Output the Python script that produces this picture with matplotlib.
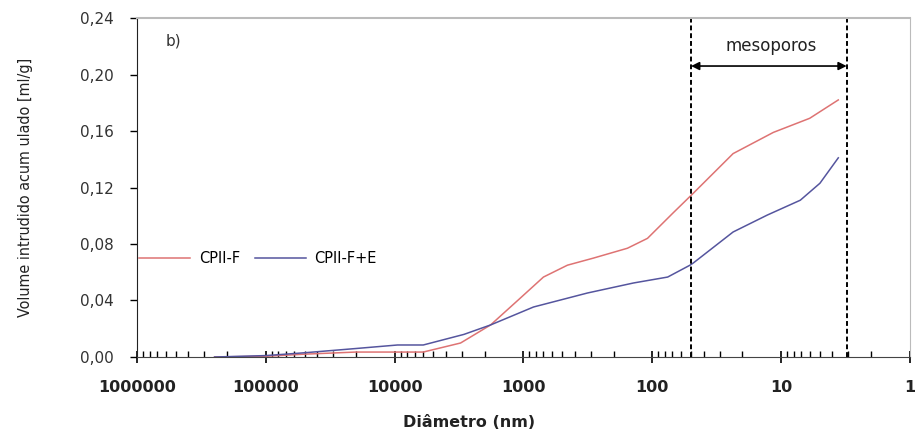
import matplotlib.pyplot as plt
from matplotlib.ticker import FixedLocator, LogLocator, NullFormatter

# diameter (nm) and cumulative intruded volume (ml/g)
diam_f = [250000, 100000, 50000, 20000, 6000, 3080, 1800, 1110, 700, 456,
          287, 156, 109, 69, 48, 23.6, 11.5, 6, 3.6]
vol_f = [0.0, 0.0005, 0.002, 0.0035, 0.0035, 0.0099, 0.0227, 0.040, 0.0566, 0.065,
         0.070, 0.077, 0.084, 0.102, 0.116, 0.144, 0.159, 0.169, 0.182]

diam_fe = [250000, 100000, 50000, 20000, 9500, 6000, 2900, 1800, 836, 319,
           140, 76, 51, 48, 23.6, 12.8, 7.1, 5, 3.6]
vol_fe = [0.0, 0.001, 0.003, 0.006, 0.0085, 0.0085, 0.016, 0.0227, 0.0354, 0.0453,
          0.0524, 0.0566, 0.065, 0.0666, 0.0885, 0.1005, 0.111, 0.123, 0.141]

x_ticks = [1000000, 100000, 10000, 1000, 100, 10, 1]
x_tick_labels = ["1000000", "100000", "10000", "1000", "100", "10", "1"]
y_ticks = [0.0, 0.04, 0.08, 0.12, 0.16, 0.20, 0.24]
y_tick_labels = ["0,00", "0,04", "0,08", "0,12", "0,16", "0,20", "0,24"]

meso_limits = [50, 3.1]

fig = plt.figure(figsize=(9.16, 4.36), dpi=100)
ax = fig.add_axes([0.1496, 0.1812, 0.8438, 0.7775])

ax.plot(diam_f, vol_f, color="#de7373", lw=1.1, label="CPII-F")
ax.plot(diam_fe, vol_fe, color="#55559e", lw=1.1, label="CPII-F+E")

for d in meso_limits:
    ax.axvline(d, color="black", lw=1.4, ls=(0, (2.5, 1.5)))

ax.annotate("", xy=(meso_limits[1], 0.206), xytext=(meso_limits[0], 0.206),
            arrowprops=dict(arrowstyle="<|-|>", color="black", lw=1.2,
                            mutation_scale=12, shrinkA=0, shrinkB=0))
ax.text(12.0, 0.220, "mesoporos", ha="center", va="center", fontsize=12,
        color="#222222")
ax.text(0.037, 0.955, "b)", transform=ax.transAxes, ha="left", va="top",
        fontsize=11, color="#333333")

ax.set_xscale("log")
ax.set_xlim(1000000, 1)
ax.set_ylim(0, 0.24)
ax.xaxis.set_major_locator(FixedLocator(x_ticks))
ax.set_xticklabels(x_tick_labels, fontsize=11.5, fontweight="bold", color="#222222")
ax.xaxis.set_minor_locator(LogLocator(base=10, subs=range(2, 10), numticks=20))
ax.xaxis.set_minor_formatter(NullFormatter())
ax.set_yticks(y_ticks)
ax.set_yticklabels(y_tick_labels, fontsize=11, color="#333333")

ax.tick_params(axis="x", which="major", direction="inout", length=9, width=1.2, pad=12)
ax.tick_params(axis="x", which="minor", direction="in", length=4, width=1)
ax.tick_params(axis="y", direction="out", length=5, width=1, pad=12)

ax.spines["left"].set_color("#222222")
ax.spines["bottom"].set_color("#444444")
ax.spines["top"].set_color("#bbbbbb")
ax.spines["right"].set_color("#bbbbbb")
ax.spines["top"].set_linewidth(1.5)

ax.set_xlabel("Diâmetro (nm)", fontsize=11.5, fontweight="bold", color="#222222")
ax.xaxis.set_label_coords(0.43, -0.17)
ax.set_ylabel("Volume intrudido acum ulado [ml/g]", fontsize=11.5,
              fontstretch="condensed", color="#222222")
ax.yaxis.set_label_coords(-0.135, 0.5)

ax.legend(loc="lower left", bbox_to_anchor=(-0.005, 0.25), ncol=2, frameon=False,
          prop=dict(size=10.5, weight="medium"), handlelength=3.5,
          columnspacing=1.0, handletextpad=0.6, borderaxespad=0)

fig.savefig("out.png", dpi=100)
